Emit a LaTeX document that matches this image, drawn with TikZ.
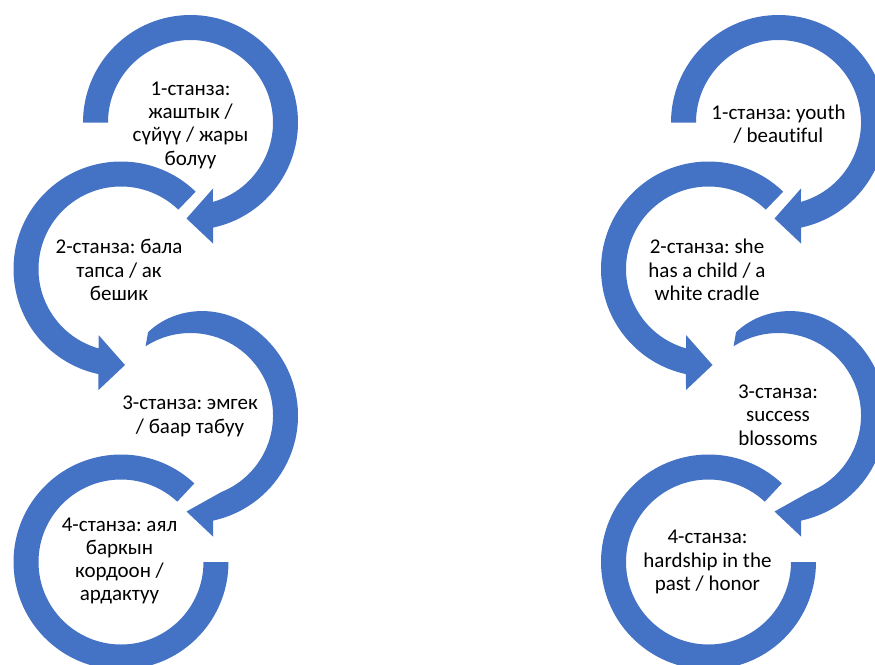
\documentclass[tikz,border=0pt]{standalone}
\usepackage{fontspec}
\setmainfont{Carlito}[Ligatures=NoCommon]
\frenchspacing

\definecolor{ringblue}{HTML}{4472C4}

\begin{document}
\begin{tikzpicture}[x=1pt, y=-1pt,
    ring/.style={fill=ringblue, draw=none},
    stanza/.style={align=center, text=black, inner sep=0pt,
                   font=\fontsize{21}{23.3}\selectfont}]

    % \draw [help lines, step=50] (0, 0) grid (875, 664);
    \useasboundingbox (0, 0) rectangle (875, 664);

    %%% left column
    \begin{scope}[shift={(190.5, 122.5)}, yscale=-1]
        \fill [ring] (180:107.5) arc [start angle=180, end angle=-77.9, radius=107.5]
            -- (22.5, -121) -- (-4, -96) -- (22.5, -66)
            -- (-74.2:82.5) arc [start angle=-74.2, end angle=180, radius=82.5] -- cycle;
    \end{scope}
    \begin{scope}[shift={(121, 269)}, yscale=-1]
        \fill [ring] (46:107.5) arc [start angle=46, end angle=257.9, radius=107.5]
            -- (-22.5, -121) -- (4, -96) -- (-22.5, -66)
            -- (254.2:82.5) arc [start angle=254.2, end angle=46, radius=82.5] -- cycle;
    \end{scope}
    \begin{scope}[shift={(190.5, 415.5)}, yscale=-1]
        \fill [ring] (123:82.5) -- (117:93.5)
            -- plot [domain=117:60, samples=25] (\x:{107.5-14*((\x-60)/57)^2})
            arc [start angle=60, end angle=-77.9, radius=107.5]
            -- (22.5, -121) -- (-4, -96)
            -- (-68:82.5) arc [start angle=-68, end angle=123, radius=82.5] -- cycle;
    \end{scope}
    \begin{scope}[shift={(121, 562)}, yscale=-1]
        \fill [ring] (47:107.5) arc [start angle=47, end angle=360, radius=107.5]
            -- (0:82.5) arc [start angle=360, end angle=47, radius=82.5] -- cycle;
    \end{scope}

    \node [stanza] (ky1) at (190.5, 125) {1-станза:\\жаштык /\\сүйүү / жары\\болуу};
    \node [stanza] (ky2) at (119, 270) {2-станза: бала\\тапса / ак\\бешик};
    \node [stanza] (ky3) at (190, 416.5) {3-станза: эмгек\\/ баар табуу};
    \node [stanza] (ky4) at (119.5, 561) {4-станза: аял\\баркын\\кордоон /\\ардактуу};

    %%% right column
    \begin{scope}[shift={(778.5, 122.5)}, yscale=-1]
        \fill [ring] (180:107.5) arc [start angle=180, end angle=-77.9, radius=107.5]
            -- (22.5, -121) -- (-4, -96) -- (22.5, -66)
            -- (-74.2:82.5) arc [start angle=-74.2, end angle=180, radius=82.5] -- cycle;
    \end{scope}
    \begin{scope}[shift={(708.5, 269)}, yscale=-1]
        \fill [ring] (46:107.5) arc [start angle=46, end angle=257.9, radius=107.5]
            -- (-22.5, -121) -- (4, -96) -- (-22.5, -66)
            -- (254.2:82.5) arc [start angle=254.2, end angle=46, radius=82.5] -- cycle;
    \end{scope}
    \begin{scope}[shift={(778.5, 415.5)}, yscale=-1]
        \fill [ring] (123:82.5) -- (117:93.5)
            -- plot [domain=117:60, samples=25] (\x:{107.5-14*((\x-60)/57)^2})
            arc [start angle=60, end angle=-77.9, radius=107.5]
            -- (22.5, -121) -- (-4, -96)
            -- (-68:82.5) arc [start angle=-68, end angle=123, radius=82.5] -- cycle;
    \end{scope}
    \begin{scope}[shift={(708.5, 562)}, yscale=-1]
        \fill [ring] (47:107.5) arc [start angle=47, end angle=360, radius=107.5]
            -- (0:82.5) arc [start angle=360, end angle=47, radius=82.5] -- cycle;
    \end{scope}

    \node [stanza] (en1) at (778.5, 124) {1-станза: youth\\/ beautiful};
    \node [stanza] (en2) at (707, 270) {2-станза: she\\has a child / a\\white cradle};
    \node [stanza] (en3) at (778, 415) {3-станза:\\success\\blossoms};
    \node [stanza] (en4) at (707.5, 562) {4-станза:\\hardship in the\\past / honor};

\end{tikzpicture}
\end{document}
